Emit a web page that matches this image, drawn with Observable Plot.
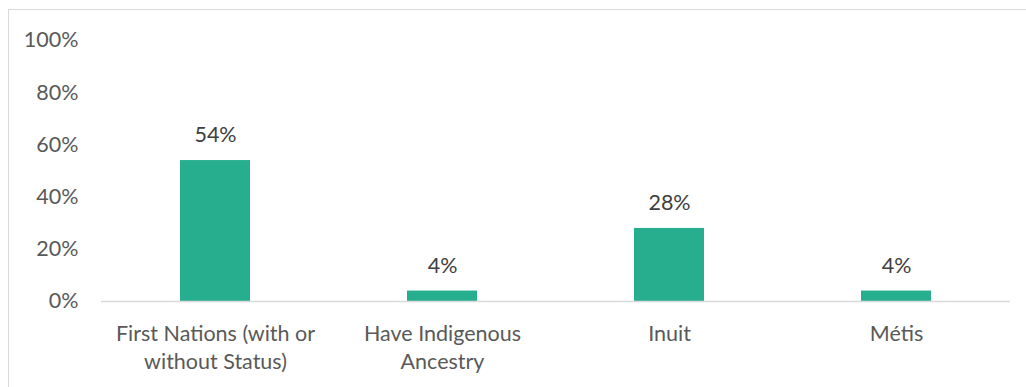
<!DOCTYPE html>
<html><head><meta charset="utf-8">
<script src="https://cdn.jsdelivr.net/npm/d3@7"></script>
<script src="https://cdn.jsdelivr.net/npm/@observablehq/plot@0.6"></script>
<style>
body{margin:0;background:#fff;}
#wrap{position:relative;width:1026px;height:387px;overflow:hidden;}
#border{position:absolute;left:8px;top:9px;width:1040px;height:400px;border-left:1.5px solid #d9d9d9;border-top:1.5px solid #d9d9d9;}
#chart{position:absolute;left:0;top:0;}
</style></head>
<body><div id="wrap"><div id="border"></div><div id="chart"></div></div>
<script>
const categories = ["First Nations (with or without Status)", "Have Indigenous Ancestry", "Inuit", "Métis"];
const tickLabels = ["First Nations (with or\nwithout Status)", "Have Indigenous\nAncestry", "Inuit", "Métis"];
const values = [0.54, 0.04, 0.28, 0.04];
const yTicks = [0, 0.2, 0.4, 0.6, 0.8, 1.0];

const data = categories.map((c, i) => ({cat: c, v: values[i]}));
const font = "Lato, 'Open Sans', sans-serif";
const fs = 21.5;
const chart = Plot.plot({
  width: 1026, height: 387,
  marginLeft: 101, marginRight: 16, marginTop: 40, marginBottom: 86,
  style: {fontFamily: font, fontSize: fs + "px", color: "#595959", background: "transparent"},
  x: {domain: categories, paddingInner: 0.69, paddingOuter: 0.345, label: null},
  y: {domain: [0, 1], label: null},
  marks: [
    Plot.barY(data, {x: "cat", y: "v", fill: "#27ae8e"}),
    Plot.ruleY([0], {stroke: "#d9d9d9", strokeWidth: 1.5}),
    Plot.text(data, {x: "cat", y: "v", text: d => Math.round(d.v * 100) + "%", dy: -25, fill: "#404040", fontSize: fs}),
    Plot.axisY({ticks: yTicks, tickFormat: d => Math.round(d * 100) + "%", tickSize: 0, tickPadding: 23, fontSize: fs, fill: "#595959"}),
    Plot.axisX({tickSize: 0, tickPadding: 20, fontSize: fs, lineHeight: 1.3, lineAnchor: "top", fill: "#595959", tickFormat: d => tickLabels[categories.indexOf(d)]})
  ]
});
document.getElementById("chart").appendChild(chart);
</script></body></html>
